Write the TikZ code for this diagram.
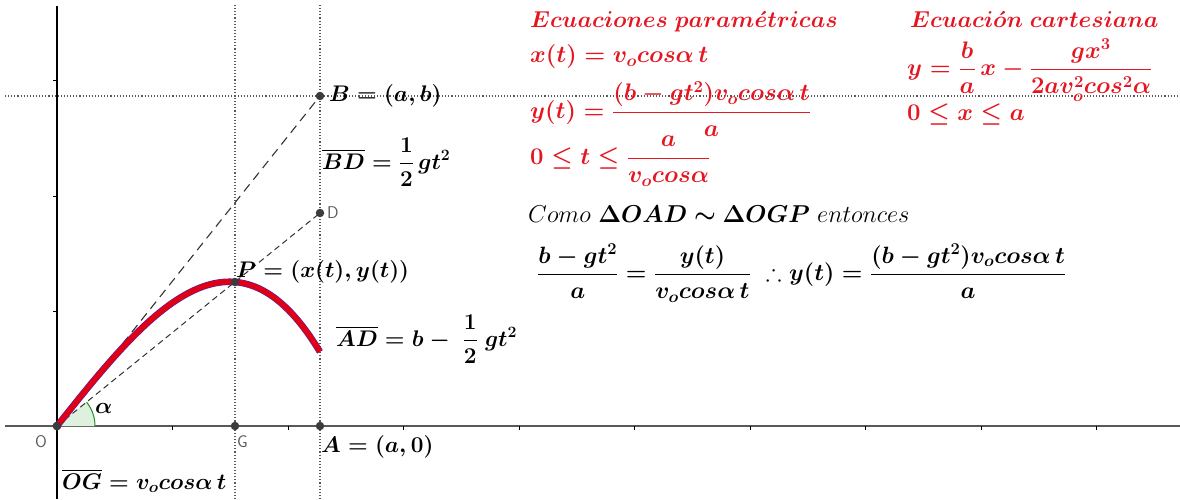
\RequirePackage{fix-cm}
\documentclass[tikz,border=0pt]{standalone}
\usepackage{amsmath,amssymb,bm}
\definecolor{gred}{RGB}{228,22,34}
\definecolor{cred}{RGB}{222,0,20}
\definecolor{cblue}{RGB}{60,40,200}
\definecolor{ptgray}{RGB}{60,60,60}
\definecolor{angfill}{RGB}{222,240,222}
\definecolor{anggreen}{RGB}{40,140,40}
\begin{document}
\begin{tikzpicture}[x=1pt,y=-1pt,
  pt/.style={circle,fill=ptgray,inner sep=0pt,minimum size=8.5pt},
  lbl/.style={font=\fontsize{22.6}{26}\selectfont\boldmath,inner sep=0pt,anchor=west},
  plainlbl/.style={font=\fontsize{24.4}{28}\selectfont,inner sep=0pt,anchor=west},
  rlbl/.style={lbl,font=\fontsize{23.9}{28}\selectfont\boldmath,text=gred},
  rhead/.style={lbl,font=\fontsize{23}{26}\selectfont\boldmath,text=gred},
  eqlbl/.style={lbl,font=\fontsize{23.6}{27}\selectfont\boldmath},
  sanslbl/.style={font=\fontsize{17}{19}\selectfont\sffamily,text=black!65,inner sep=0pt},
  guide/.style={black!65,dash pattern=on 1.1pt off 2pt,line width=1.1pt},
  longdash/.style={black!80,dash pattern=on 9pt off 6pt,line width=1.1pt},
  shortdash/.style={black!80,dash pattern=on 6pt off 4pt,line width=1pt}
]
\useasboundingbox (0,0) rectangle (1180,499);
% guides
\draw[guide] (5,96) -- (1180,96);
\draw[guide] (235,5) -- (235,499);
\draw[guide] (320,5) -- (320,499);
% axes
\draw[black!65,line width=2pt] (5,426) -- (1180,426);
\draw[black,line width=1.5pt] (57,6) -- (57,499);
\foreach \t in {80.5,196,311.5} \draw[black,line width=0.8pt] (53,\t) -- (57,\t);
\foreach \k in {1,...,9} \draw[black,line width=0.8pt] ({57+115.5*\k},426) -- ({57+115.5*\k},430);
% points
\node[pt] (O) at (57,426) {};
\node[pt] (G) at (235,426) {};
\node[pt] (A) at (320,426) {};
\node[pt] (B) at (320,96) {};
\node[pt] (D) at (320,213) {};
% angle
\fill[angfill] (O.center) -- plot[domain=0:39,samples=20] ({57+38*cos(\x)},{426-38*sin(\x)}) -- cycle;
\draw[anggreen,line width=1pt] plot[domain=0:39,samples=20] ({57+38*cos(\x)},{426-38*sin(\x)});
% dashed lines
\draw[longdash] (O.center) -- (B.center);
\draw[shortdash] (O.center) -- (D.center);
% curve
\draw[cblue,line width=6.6pt] plot[domain=0:2.63,samples=80,smooth] ({57+100*\x},{426-100*\x*(1.2548-0.1407*\x*\x)});
\draw[cred,line width=5.6pt] plot[domain=0:2.63,samples=80,smooth] ({57+100*\x},{426-100*\x*(1.2548-0.1407*\x*\x)});
\node[pt] (P) at (235,282) {};
\node[pt] at (O) {};
% labels
\node[sanslbl] (Ol) at (41,442) {O};
\node[sanslbl,anchor=west] (Gl) at (237,442) {G};
\node[sanslbl,anchor=west] (Dl) at (327,213) {D};
\node[lbl] (al) at (95,408) {$\alpha$};
\node[lbl] (Bl) at (329,96) {$B=(a,b)$};
\node[lbl] (BDl) at (322,162) {$\overline{BD}=\dfrac{1}{2}\,gt^2$};
\node[lbl] (Pl) at (236,272) {$P=(x(t),y(t))$};
\node[lbl] (ADl) at (336,339) {$\overline{AD}=b-\;\dfrac{1}{2}\;gt^2$};
\node[lbl] (Al) at (321,447) {$A=(a,0)$};
\node[lbl] (OGl) at (62,481) {$\overline{OG}=v_ocos\alpha\,t$};
% red texts
\node[rhead] (h1) at (530,22) {$Ecuaciones\ param\acute{e}tricas$};
\node[rlbl] (x1) at (530,57) {$x(t)=v_ocos\alpha\,t$};
\node[rlbl] (y1) at (530,109) {$y(t)=\dfrac{(b-gt^2)v_ocos\alpha\,t}{a}$};
\node[rlbl] (t1) at (530,161) {$0\le t\le\dfrac{a}{v_ocos\alpha}$};
\node[rhead] (h2) at (910,20) {$Ecuaci\acute{o}n\ cartesiana$};
\node[rlbl] (c1) at (907,70) {$y=\dfrac{b}{a}\,x-\dfrac{gx^3}{2av_o^2cos^2\alpha}$};
\node[rlbl] (c2) at (907,115) {$0\le x\le a$};
% black texts
\node[plainlbl] (como) at (528,214) {$Como\ \boldsymbol{\Delta OAD\sim\Delta OGP}\ entonces$};
\node[eqlbl] (eq) at (537,273) {$\dfrac{b-gt^2}{a}=\dfrac{y(t)}{v_ocos\alpha\,t}\;\therefore y(t)=\dfrac{(b-gt^2)v_ocos\alpha\,t}{a}$};
\end{tikzpicture}
\end{document}
